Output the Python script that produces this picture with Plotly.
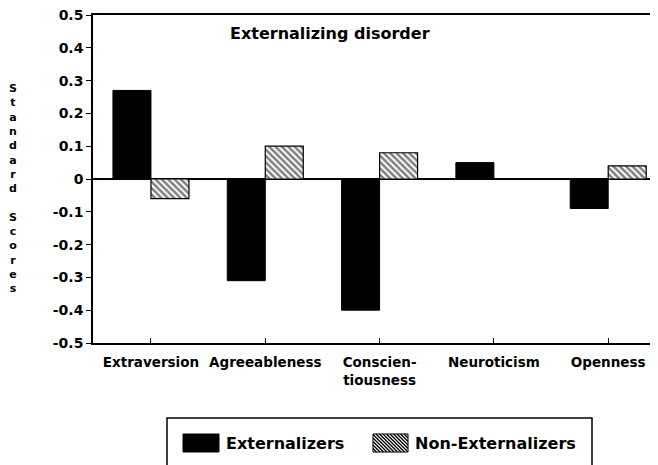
import plotly.graph_objects as go

categories = ["Extraversion", "Agreeableness", "Conscien-<br>tiousness", "Neuroticism", "Openness"]
externalizers = [0.27, -0.31, -0.40, 0.05, -0.09]
non_externalizers = [-0.06, 0.10, 0.08, 0.0, 0.04]
y_tick_vals = [0.5, 0.4, 0.3, 0.2, 0.1, 0, -0.1, -0.2, -0.3, -0.4, -0.5]
y_tick_text = ["0.5", "0.4", "0.3", "0.2", "0.1", "0", "-0.1", "-0.2", "-0.3", "-0.4", "-0.5"]
title_text = "Externalizing disorder"
y_title = "Standard Scores"
series_names = ["Externalizers", "Non-Externalizers"]

OFF = 8  # page body margin offset
W, H = 658 - OFF, 465 - OFF
ML, MT = 93 - OFF, 15 - OFF
MR = 0
MB = H - (343 - OFF)
PW, PH = W - ML - MR, H - MT - MB
FONT = "DejaVu Sans"


def px(x):
    return (x - OFF - ML) / PW


def py(y):
    return (H - MB - (y - OFF)) / PH


fig = go.Figure()
fig.add_trace(go.Bar(
    x=categories, y=externalizers, name=series_names[0],
    marker=dict(color="black", line=dict(color="black", width=1)),
    showlegend=False,
))
fig.add_trace(go.Bar(
    x=categories, y=non_externalizers, name=series_names[1],
    marker=dict(color="white", line=dict(color="black", width=1.2),
                pattern=dict(shape="\\", fgcolor="black", bgcolor="white",
                             size=4.5, solidity=0.55)),
    showlegend=False,
))

shapes = []
# legend box
shapes.append(dict(type="rect", xref="paper", yref="paper",
                   x0=px(167), x1=px(592), y0=py(475), y1=py(418),
                   line=dict(color="black", width=1.5), fillcolor="white", layer="above"))
# black swatch
shapes.append(dict(type="rect", xref="paper", yref="paper",
                   x0=px(183), x1=px(219), y0=py(452), y1=py(434),
                   line=dict(color="black", width=1), fillcolor="black", layer="above"))
# hatched swatch
sx0, stop, sw, sh = 373, 434, 35, 18
shapes.append(dict(type="rect", xref="paper", yref="paper",
                   x0=px(sx0), x1=px(sx0 + sw), y0=py(stop + sh), y1=py(stop),
                   line=dict(color="black", width=1), fillcolor="white", layer="above"))
path = ""
c = -sh
while c < sw:
    u0 = max(0, -c)
    u1 = min(sh, sw - c)
    if u1 > u0:
        xa, ya = sx0 + c + u0, stop + u0
        xb, yb = sx0 + c + u1, stop + u1
        path += f"M{px(xa):.5f},{py(ya):.5f}L{px(xb):.5f},{py(yb):.5f}"
    c += 3.5
shapes.append(dict(type="path", xref="paper", yref="paper", path=path,
                   line=dict(color="black", width=1.3), layer="above"))

annotations = [
    dict(text=title_text, xref="paper", yref="paper", x=px(330), y=py(33),
         xanchor="center", yanchor="middle", showarrow=False,
         font=dict(family=FONT, size=16, color="black", weight=700)),
    dict(text="<br>".join(" " if ch == " " else ch for ch in y_title),
         xref="paper", yref="paper", x=px(13), y=py(188),
         xanchor="center", yanchor="middle", showarrow=False,
         font=dict(family=FONT, size=11, color="black", weight=700)),
    dict(text=series_names[0], xref="paper", yref="paper", x=px(224), y=py(443),
         xanchor="left", yanchor="middle", showarrow=False,
         font=dict(family=FONT, size=16, color="black", weight=700)),
    dict(text=series_names[1], xref="paper", yref="paper", x=px(413), y=py(443),
         xanchor="left", yanchor="middle", showarrow=False,
         font=dict(family=FONT, size=16, color="black", weight=700)),
]

fig.update_layout(
    width=W, height=H,
    margin=dict(l=ML, r=MR, t=MT, b=MB, autoexpand=False),
    paper_bgcolor="white", plot_bgcolor="white",
    barmode="group", bargap=0.335, bargroupgap=0,
    shapes=shapes, annotations=annotations,
    font=dict(family=FONT, color="black", weight=700),
)
fig.update_xaxes(
    range=[-0.507, (PW - 58) / 114.3], showline=True, linecolor="black", linewidth=1.5,
    mirror=True, ticks="inside", ticklen=5, tickcolor="black", tickwidth=1,
    showgrid=False, zeroline=False, ticklabelstandoff=6,
    tickfont=dict(family=FONT, size=13.5, color="black", weight=700),
)
fig.update_yaxes(
    range=[-0.5, 0.5], tickmode="array", tickvals=y_tick_vals, ticktext=y_tick_text,
    showline=True, linecolor="black", linewidth=1.5,
    ticks="outside", ticklen=5, tickcolor="black", tickwidth=1,
    showgrid=False, zeroline=True, zerolinecolor="black", zerolinewidth=1.5,
    ticklabeloverflow="allow",
    tickfont=dict(family=FONT, size=14, color="black", weight=700),
)

fig.write_html("out.html")
